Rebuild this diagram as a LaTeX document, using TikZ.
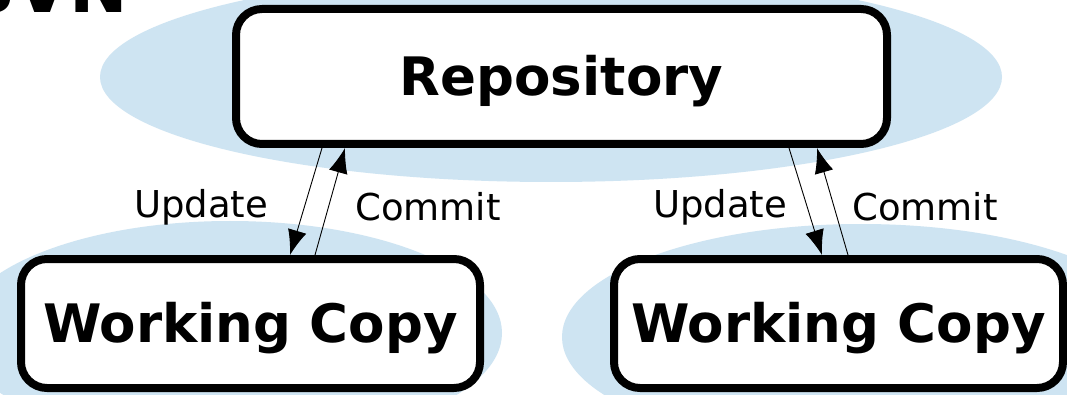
\documentclass[tikz,border=0pt]{standalone}
\usepackage{fontspec}
\setmainfont{DejaVu Sans}
\usetikzlibrary{arrows.meta}
\definecolor{halo}{RGB}{206,228,242}
\tikzset{
  halo/.style={fill=halo, draw=none},
  box/.style={draw=black, line width=8pt, fill=white, rounded corners=26pt, inner sep=0pt, text depth=3pt, font=\fontsize{53}{60}\selectfont\bfseries},
  flow/.style={line width=0.9pt, -{Latex[length=25pt,width=19pt]}},
  lbl/.style={font=\fontsize{37}{44}\selectfont, inner sep=0pt}
}
\begin{document}
\begin{tikzpicture}[x=1pt,y=-1pt]
\useasboundingbox (0,0) rectangle (1067,395);
\clip (0,0) rectangle (1067,395);
\fill[white] (0,0) rectangle (1067,395);
\node[anchor=base west, inner sep=0pt, font=\fontsize{70}{80}\selectfont\bfseries] (title) at (-35,13) {SVN};
\fill[halo] (551,77) ellipse [x radius=451pt, y radius=105pt];
\fill[halo] (230,333) ellipse [x radius=272pt, y radius=112pt];
\fill[halo] (861,337) ellipse [x radius=299pt, y radius=113pt];
\node[box, minimum width=651pt, minimum height=135pt] (repo) at (561.5,76.5) {Repository};
\node[box, minimum width=459pt, minimum height=129pt] (wc1) at (250.5,323.5) {Working Copy};
\node[box, minimum width=449pt, minimum height=129pt] (wc2) at (838.5,323.5) {Working Copy};
\draw[flow] (322,0 |- repo.south) -- (290,0 |- wc1.north);
\draw[flow] (315,0 |- wc1.north) -- (345,0 |- repo.south);
\draw[flow] (789,0 |- repo.south) -- (822,0 |- wc2.north);
\draw[flow] (848,0 |- wc2.north) -- (817,0 |- repo.south);
\node[lbl] (u1) at (201,207) {Update};
\node[lbl] (c1) at (428,207) {Commit};
\node[lbl] (u2) at (720,207) {Update};
\node[lbl] (c2) at (925,207) {Commit};
\end{tikzpicture}
\end{document}
